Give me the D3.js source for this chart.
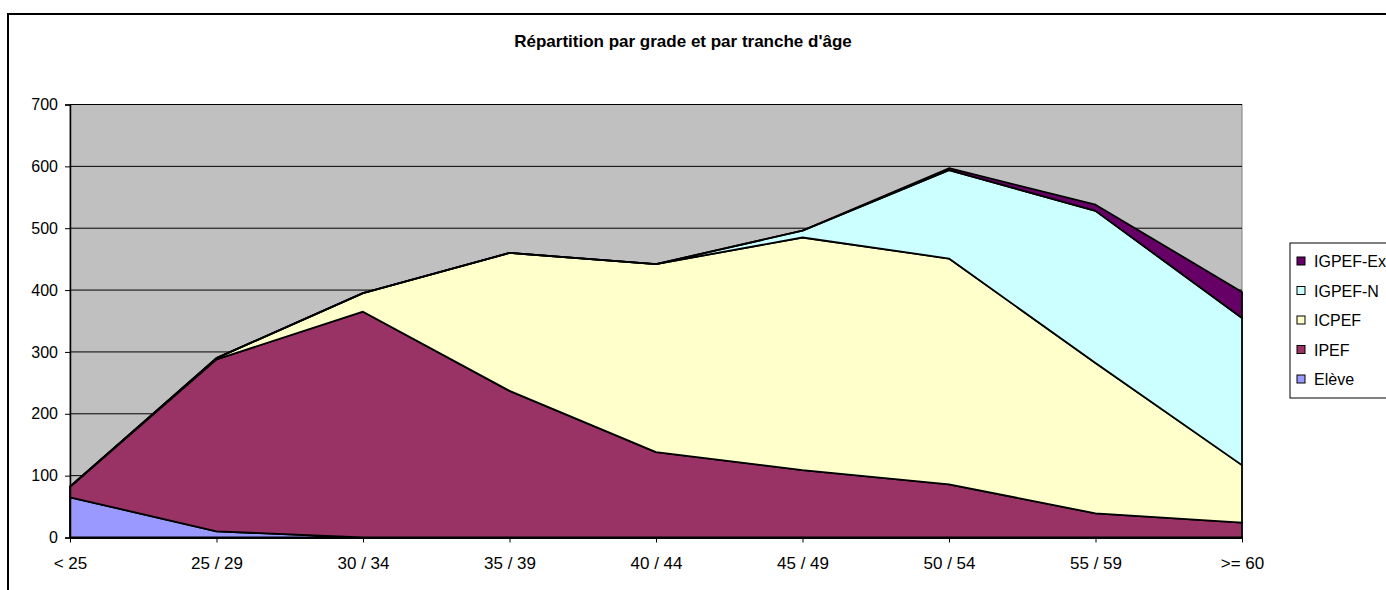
<!DOCTYPE html>
<html>
<head>
<meta charset="utf-8">
<script src="https://cdn.jsdelivr.net/npm/d3@7"></script>
<style>
  body { margin: 0; background: #fff; }
  svg { display: block; font-family: "Liberation Sans", Arial, sans-serif; }
</style>
</head>
<body>
<svg id="chart" width="1386" height="590"></svg>
<script>
const categories = ["< 25", "25 / 29", "30 / 34", "35 / 39", "40 / 44", "45 / 49", "50 / 54", "55 / 59", ">= 60"];
const seriesNames = ["Elève", "IPEF", "ICPEF", "IGPEF-N", "IGPEF-Ex"];
const eleve   = [65, 10, 0, 0, 0, 0, 0, 0, 0];
const ipef    = [17, 278, 365, 237, 138, 109, 86, 39, 24];
const icpef   = [0, 2, 30, 223, 304, 376, 365, 243, 93];
const igpefN  = [0, 0, 0, 0, 0, 11, 143, 246, 238];
const igpefEx = [0, 0, 0, 0, 0, 0, 3, 10, 42];
const yTicks = [0, 100, 200, 300, 400, 500, 600, 700];
const colors = ["#9999ff", "#993366", "#ffffcc", "#ccffff", "#660066"];

const svg = d3.select("#chart");
const plotL = 70, plotR = 1242, plotT = 104.5, plotB = 537.5;
const font = "Liberation Sans, Arial, sans-serif";

// outer chart frame (runs off the right and bottom edges)
svg.append("rect")
  .attr("x", 8).attr("y", 14)
  .attr("width", 1400).attr("height", 600)
  .attr("fill", "none").attr("stroke", "#000").attr("stroke-width", 2);

svg.append("text")
  .attr("x", 683).attr("y", 47)
  .attr("text-anchor", "middle")
  .attr("font-size", 17).attr("font-weight", "bold")
  .text("Répartition par grade et par tranche d'âge");

const x = d3.scalePoint().domain(categories).range([plotL, plotR]);
const y = d3.scaleLinear().domain([0, 700]).range([plotB, plotT]);

svg.append("rect")
  .attr("x", plotL).attr("y", plotT)
  .attr("width", plotR - plotL).attr("height", plotB - plotT)
  .attr("fill", "#c0c0c0").attr("stroke", "#808080");

svg.append("g")
  .selectAll("line")
  .data(yTicks.slice(1))
  .join("line")
  .attr("x1", plotL).attr("x2", plotR)
  .attr("y1", d => y(d)).attr("y2", d => y(d))
  .attr("stroke", "#000").attr("stroke-width", 1);

const table = categories.map((c, i) => ({
  cat: c, "Elève": eleve[i], "IPEF": ipef[i], "ICPEF": icpef[i],
  "IGPEF-N": igpefN[i], "IGPEF-Ex": igpefEx[i]
}));
const stacked = d3.stack().keys(seriesNames)(table);

const area = d3.area()
  .x(d => x(d.data.cat))
  .y0(d => y(d[0]))
  .y1(d => y(d[1]));

svg.append("g")
  .selectAll("path")
  .data(stacked)
  .join("path")
  .attr("d", area)
  .attr("fill", (d, i) => colors[i])
  .attr("stroke", "#000")
  .attr("stroke-width", 1.8)
  .attr("stroke-linejoin", "round");

const yAxis = svg.append("g")
  .attr("transform", `translate(${plotL},0)`)
  .call(d3.axisLeft(y).tickValues(yTicks).tickSize(5).tickPadding(7).tickFormat(d3.format("d")));
yAxis.select(".domain").attr("stroke", "#000").attr("stroke-width", 1.5);
yAxis.selectAll("text").attr("font-size", 16).attr("fill", "#000").attr("font-family", font);

const xAxis = svg.append("g")
  .attr("transform", `translate(0,${plotB})`)
  .call(d3.axisBottom(x).tickSize(5).tickPadding(14).tickSizeOuter(0));
xAxis.select(".domain").attr("stroke", "#000").attr("stroke-width", 2);
xAxis.selectAll("text").attr("font-size", 17).attr("fill", "#000").attr("font-family", font);

// legend
const legend = svg.append("g");
legend.append("rect")
  .attr("x", 1290).attr("y", 243)
  .attr("width", 120).attr("height", 155)
  .attr("fill", "#fff").attr("stroke", "#000");

const items = seriesNames.map((n, i) => ({ name: n, color: colors[i] })).reverse();
const row = legend.selectAll("g.item")
  .data(items)
  .join("g")
  .attr("class", "item")
  .attr("transform", (d, i) => `translate(1297,${261 + i * 29.5})`);
row.append("rect")
  .attr("x", 0).attr("y", -4)
  .attr("width", 8).attr("height", 8)
  .attr("fill", d => d.color).attr("stroke", "#000");
row.append("text")
  .attr("x", 17).attr("y", 6)
  .attr("font-size", 16)
  .text(d => d.name);
</script>
</body>
</html>
